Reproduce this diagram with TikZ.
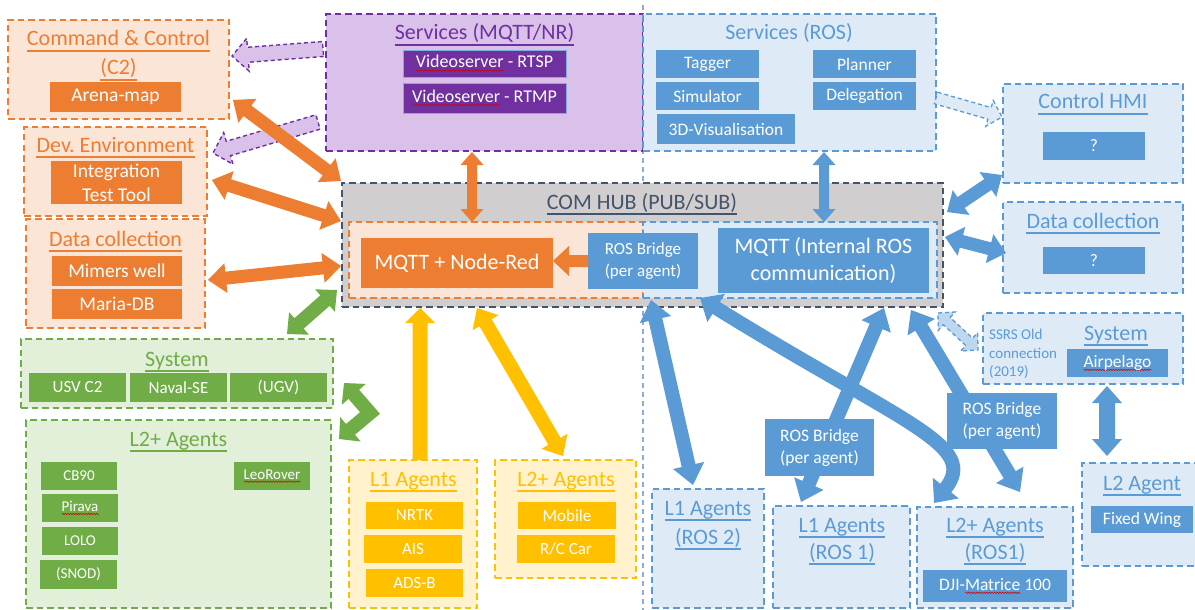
\documentclass[tikz,border=0pt]{standalone}
\usepackage{fontspec}
\setmainfont{Carlito}
\usetikzlibrary{calc,arrows.meta,decorations.pathmorphing}

\definecolor{orng}{HTML}{ED7D31}
\definecolor{lorng}{HTML}{FBE5D6}
\definecolor{purp}{HTML}{7030A0}
\definecolor{lpurp}{HTML}{D9C1EA}
\definecolor{blu}{HTML}{5B9BD5}
\definecolor{lblu}{HTML}{DEEBF7}
\definecolor{mblu}{HTML}{BDD7EE}
\definecolor{grn}{HTML}{70AD47}
\definecolor{lgrn}{HTML}{E2F0D9}
\definecolor{yel}{HTML}{FFC000}
\definecolor{lyel}{HTML}{FFF2CC}
\definecolor{hubg}{HTML}{D0CECE}
\definecolor{slate}{HTML}{44546A}
\definecolor{divl}{HTML}{8FAADC}

% red spell-check wave under a word
\newlength\sqlen
\newcommand\squig[1]{\settowidth\sqlen{#1}\rlap{\tikz[baseline=0pt]\draw[red!85!black, line width=0.55pt, decorate, decoration={snake, amplitude=0.7pt, segment length=2.6pt}] (0pt,-2.6pt) -- (\sqlen,-2.6pt);}#1}
% rectangle node given by its corners
\newcommand\boxnode[7]{\node[#6, anchor=north west, minimum width={(#4-#2)*1pt}, minimum height={(#5-#3)*1pt}, inner sep=0pt, outer sep=0pt] (#1) at (#2,#3) {#7};}
% heading node (baseline placed at the point) with an underline
\newcommand\heading[5]{\node[ttl, text=#2] (#1) at (#3,#4) {#5};
  \draw[#2, line width=1.4pt] ($(#1.base west)+(0,4.9)$) -- ($(#1.base east)+(0,4.9)$);}
% block arrows: style, from, to, shaft width, head width, head length
\newcommand\dbarrow[6]{\path[#1] let \p1=(#2), \p2=(#3), \n1={atan2(\y2-\y1,\x2-\x1)}, \n2={veclen(\x2-\x1,\y2-\y1)} in
  [shift={(\p1)}, rotate=\n1]
  (0pt,0pt) -- (#6pt,#5pt/2) -- (#6pt,#4pt/2) -- ({\n2-#6pt},#4pt/2) -- ({\n2-#6pt},#5pt/2) -- ({\n2+0pt},0pt)
  -- ({\n2-#6pt},-#5pt/2) -- ({\n2-#6pt},-#4pt/2) -- (#6pt,-#4pt/2) -- (#6pt,-#5pt/2) -- cycle;}
\newcommand\sgarrow[6]{\path[#1] let \p1=(#2), \p2=(#3), \n1={atan2(\y2-\y1,\x2-\x1)}, \n2={veclen(\x2-\x1,\y2-\y1)} in
  [shift={(\p1)}, rotate=\n1]
  (0pt,#4pt/2) -- ({\n2-#6pt},#4pt/2) -- ({\n2-#6pt},#5pt/2) -- ({\n2+0pt},0pt)
  -- ({\n2-#6pt},-#5pt/2) -- ({\n2-#6pt},-#4pt/2) -- (0pt,-#4pt/2) -- cycle;}

\begin{document}
\begin{tikzpicture}[x=1pt, y=-1pt,
  cont/.style={line width=1.7pt, dash pattern=on 6.5pt off 4pt},
  ocont/.style={cont, draw=orng, fill=lorng},
  pcont/.style={cont, draw=purp, fill=lpurp},
  bcont/.style={cont, draw=blu, fill=lblu},
  gcont/.style={cont, draw=grn, fill=lgrn},
  ycont/.style={cont, draw=yel, fill=lyel},
  hubst/.style={line width=1.8pt, dash pattern=on 6.5pt off 4pt, draw=slate, fill=hubg},
  ttl/.style={anchor=base, inner sep=0pt, font=\fontsize{22}{26}\selectfont},
  obox/.style={fill=orng, text=white, align=center, font=\fontsize{19.5}{24}\selectfont},
  pbox/.style={fill=purp, draw=blu!80, line width=0.8pt, text=white, align=center, font=\fontsize{18}{22}\selectfont},
  bbox/.style={fill=blu, text=white, align=center, font=\fontsize{17.5}{22}\selectfont},
  gbox/.style={fill=grn, text=white, align=center, font=\fontsize{17}{21}\selectfont},
  gsbox/.style={fill=grn, text=white, align=center, font=\fontsize{15}{19}\selectfont},
  ybox/.style={fill=yel, text=white, align=center, font=\fontsize{17}{21}\selectfont},
  pdash/.style={draw=purp, fill=lpurp, line width=1.4pt, dash pattern=on 4pt off 3pt},
  bdash/.style={draw=blu, fill=lblu, line width=1.3pt, dash pattern=on 4pt off 3pt},
  bdash2/.style={draw=blu, fill=mblu, line width=1.3pt, dash pattern=on 4pt off 3pt},
]
\useasboundingbox (0,0) rectangle (1195,610);
\fill[white] (0,0) rectangle (1195,610);

% divider between the MQTT side and the ROS side
\coordinate (divtop) at (643,5);
\coordinate (divbot) at (643,612);
\draw[divl, line width=1.1pt, dash pattern=on 5pt off 4pt] (divtop) -- (divbot);

% ---- left column ----
\boxnode{c2}{8}{20}{229}{119}{ocont}{}
\heading{c2t1}{orng}{118.5}{46}{Command \& Control}
\heading{c2t2}{orng}{118.5}{75}{(C2)}
\boxnode{arena}{50}{82}{181}{112}{obox}{Arena-map}

\boxnode{dev}{24}{127}{207}{216}{ocont}{}
\heading{devt}{orng}{115.5}{152}{Dev.\ Environment}
\boxnode{itt}{51}{161}{182}{204}{obox}{Integration\\Test Tool}

\boxnode{dcl}{26}{219}{205}{328}{ocont}{}
\heading{dclt}{orng}{115.5}{246}{Data collection}
\boxnode{mimers}{52}{256}{182}{286}{obox}{Mimers well}
\boxnode{maria}{52}{289}{182}{319}{obox}{Maria-DB}

\boxnode{sysg}{21}{339}{333}{408}{gcont}{}
\heading{sysgt}{grn}{177}{366}{System}
\boxnode{usv}{29}{373}{126}{402}{gbox}{USV C2}
\boxnode{naval}{130}{373}{227}{402}{gbox}{Naval-SE}
\boxnode{ugv}{230}{373}{327}{402}{gbox}{(UGV)}

\boxnode{l2g}{26}{420}{331}{608}{gcont}{}
\heading{l2gt}{grn}{178.5}{446}{L2+ Agents}
\boxnode{cb}{41}{462}{117}{490}{gsbox}{CB90}
\boxnode{pir}{42}{494}{118}{522}{gsbox}{\squig{Pirava}}
\boxnode{lolo}{42}{527}{118}{555}{gsbox}{LOLO}
\boxnode{snod}{40}{560}{117}{589}{gsbox}{(SNOD)}
\boxnode{leo}{234}{462}{310}{490}{gsbox}{\squig{LeoRover}}

% ---- services ----
\boxnode{smq}{326}{14}{643}{151}{pcont}{}
\heading{smqt}{purp}{484.5}{40}{Services (MQTT/NR)}
\boxnode{rtsp}{403}{50}{566}{77}{pbox}{\squig{Videoserver} - RTSP}
\boxnode{rtmp}{403}{83}{566}{113}{pbox}{\squig{Videoserver} - RTMP}

\boxnode{sros}{643}{14}{936}{151}{bcont}{}
\node[ttl, text=blu] (srost) at (789,40) {Services (ROS)};
\boxnode{tagger}{656}{50}{759}{78}{bbox}{Tagger}
\boxnode{sim}{656}{82}{759}{110}{bbox}{Simulator}
\boxnode{vis}{657}{114}{795}{144}{bbox}{3D-Visualisation}
\boxnode{plan}{813}{50}{916}{78}{bbox}{Planner}
\boxnode{deleg}{813}{82}{916}{110}{bbox}{Delegation}

% ---- right column ----
\boxnode{hmi}{1003}{84}{1183}{183}{bcont}{}
\heading{hmit}{blu}{1093}{109}{Control HMI}
\boxnode{hmiq}{1043}{132}{1145}{160}{bbox}{?}

\boxnode{dcr}{1003}{202}{1183}{293}{bcont}{}
\heading{dcrt}{blu}{1093}{228}{Data collection}
\boxnode{dcrq}{1043}{247}{1145}{274}{bbox}{?}

\boxnode{sysr}{983}{313}{1183}{384}{bcont}{}
\heading{sysrt}{blu}{1116}{340}{System}
\node[anchor=west, align=left, text=blu, font=\fontsize{15}{18.5}\selectfont, inner sep=0pt] (ssrs) at (989,354) {SSRS Old\\connection\\(2019)};
\boxnode{airp}{1067}{349}{1168}{377}{bbox}{\squig{Airpelago}}

\boxnode{l2a}{1082}{463}{1200}{566}{bcont}{}
\heading{l2at}{blu}{1142}{490}{L2 Agent}
\boxnode{fw}{1091}{506}{1193}{533}{bbox}{Fixed Wing}

% ---- communication hub ----
\boxnode{hub}{342}{183}{943}{307}{hubst}{}
\heading{hubt}{slate}{642}{209}{COM HUB (PUB/SUB)}
\boxnode{hubo}{349}{222}{643}{298}{ocont}{}
\boxnode{hubb}{643}{222}{937}{298}{bcont}{}
\boxnode{mqnr}{361}{238}{553}{288}{obox, font=\fontsize{22}{27}\selectfont}{MQTT + Node-Red}
\boxnode{rbh}{588}{233}{698}{289}{bbox, font=\fontsize{17}{22}\selectfont}{ROS Bridge\\(per agent)}
\boxnode{mqi}{718}{228}{929}{293}{bbox, font=\fontsize{22}{27}\selectfont}{MQTT (Internal ROS\\communication)}

% ---- agents ----
\boxnode{l1y}{349}{460}{477}{608}{ycont}{}
\heading{l1yt}{yel}{413.5}{486}{L1 Agents}
\boxnode{nrtk}{366}{502}{463}{529}{ybox}{NRTK}
\boxnode{ais}{364}{535}{462}{563}{ybox}{AIS}
\boxnode{adsb}{366}{569}{463}{597}{ybox}{ADS-B}

\boxnode{l2y}{495}{460}{636}{578}{ycont}{}
\heading{l2yt}{yel}{566}{486}{L2+ Agents}
\boxnode{mob}{518}{502}{616}{529}{ybox}{Mobile}
\boxnode{rc}{517}{535}{615}{563}{ybox}{R/C Car}

\boxnode{l1r2}{652}{489}{764}{608}{bcont}{}
\heading{l1r2a}{blu}{708}{515}{L1 Agents}
\heading{l1r2b}{blu}{708}{544}{(ROS 2)}
\boxnode{l1r1}{773}{506}{910}{608}{bcont}{}
\heading{l1r1a}{blu}{842}{532}{L1 Agents}
\heading{l1r1b}{blu}{842}{559}{(ROS 1)}
\boxnode{l2r1}{917}{507}{1073}{608}{bcont}{}
\heading{l2r1a}{blu}{995}{532}{L2+ Agents}
\heading{l2r1b}{blu}{995}{559}{(ROS1)}
\boxnode{dji}{923}{570}{1067}{602}{bbox}{DJI-\squig{Matrice} 100}

% ---- connector end points ----
\coordinate (pa1a) at (323,49);  \coordinate (pa1b) at (232,56);
\coordinate (pa2a) at (318,122); \coordinate (pa2b) at (213,153);
\coordinate (oa1a) at (233,100); \coordinate (oa1b) at (341,181);
\coordinate (oa2a) at (212,180); \coordinate (oa2b) at (341,221);
\coordinate (oa3a) at (208,280); \coordinate (oa3b) at (341,266);
\coordinate (oa4a) at (472,152); \coordinate (oa4b) at (472,222);
\coordinate (ga1a) at (287,334); \coordinate (ga1b) at (337,290);
\coordinate (g1) at (344,383); \coordinate (gc) at (370,413); \coordinate (g2) at (339,439);
\coordinate (ya1a) at (420,460); \coordinate (ya1b) at (420,308);
\coordinate (ya2a) at (477,308); \coordinate (ya2b) at (563,456);
\coordinate (ba1a) at (824,152); \coordinate (ba1b) at (824,222);
\coordinate (ba2a) at (947,212); \coordinate (ba2b) at (1002,175);
\coordinate (ba3a) at (945,237); \coordinate (ba3b) at (1006,253);
\coordinate (ba4a) at (651,300); \coordinate (ba4b) at (693,485);
\coordinate (ba5a) at (884,308); \coordinate (ba5b) at (801,502);
\coordinate (ba6a) at (911,310); \coordinate (ba6b) at (1020,492);
\coordinate (ba7a) at (700,298); \coordinate (ba7b) at (934,503);
\coordinate (ba8a) at (1107,386); \coordinate (ba8b) at (1107,456);
\coordinate (la1a) at (936,98);  \coordinate (la1b) at (1002,117);
\coordinate (la2a) at (938,313); \coordinate (la2b) at (978,350);

% dashed (planned) links
\sgarrow{pdash}{pa1a}{pa1b}{15}{33}{16}
\sgarrow{pdash}{pa2a}{pa2b}{15}{33}{16}
\sgarrow{bdash}{la1a}{la1b}{12}{27}{13}
\dbarrow{bdash2}{la2a}{la2b}{10}{25}{12}

% MQTT side links
\dbarrow{fill=orng}{oa1a}{oa1b}{13}{30}{18}
\dbarrow{fill=orng}{oa2a}{oa2b}{13}{30}{18}
\dbarrow{fill=orng}{oa3a}{oa3b}{13}{30}{18}
\dbarrow{fill=orng}{oa4a}{oa4b}{10}{23}{13}
\sgarrow{fill=orng}{rbh.west}{mqnr.east |- rbh.west}{12}{30}{16}
\dbarrow{fill=grn}{ga1a}{ga1b}{14}{30}{16}
\draw[grn, line width=14pt, line join=miter, {Triangle[length=15pt,width=31pt]}-{Triangle[length=15pt,width=31pt]}] (g1) -- (gc) -- (g2);
\sgarrow{fill=yel}{ya1a}{ya1b}{15}{30}{15}
\dbarrow{fill=yel}{ya2a}{ya2b}{14}{30}{17}

% ROS side links
\dbarrow{fill=blu}{ba1a}{ba1b}{10}{23}{13}
\dbarrow{fill=blu}{ba2a}{ba2b}{13}{30}{17}
\dbarrow{fill=blu}{ba3a}{ba3b}{13}{30}{17}
\dbarrow{fill=blu}{ba4a}{ba4b}{14}{32}{20}
\dbarrow{fill=blu}{ba5a}{ba5b}{14}{32}{20}
\dbarrow{fill=blu}{ba6a}{ba6b}{14}{32}{20}
\draw[blu, line width=14pt, {Triangle[length=19pt,width=32pt]}-{Triangle[length=19pt,width=32pt]}] (ba7a) .. controls (905,425) and (980,445) .. (ba7b);
\dbarrow{fill=blu}{ba8a}{ba8b}{16}{30}{17}

% bridge labels on top of the links
\boxnode{rb1}{765}{419}{874}{476}{bbox}{ROS Bridge\\(per agent)}
\boxnode{rb2}{947}{393}{1057}{449}{bbox}{ROS Bridge\\(per agent)}
\end{tikzpicture}
\end{document}
